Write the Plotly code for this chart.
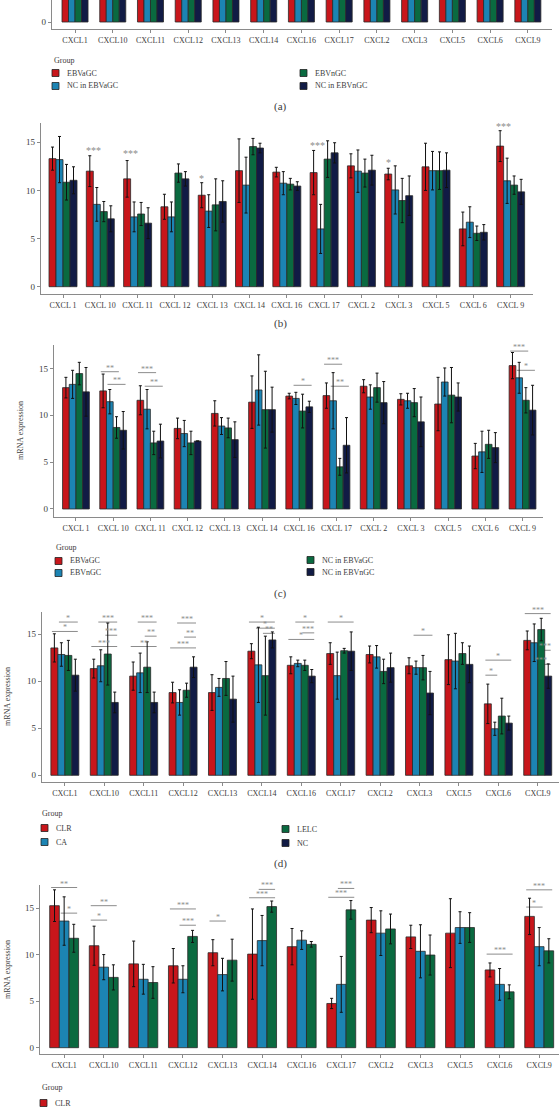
import plotly.graph_objects as go

W, H = 559, 1110

# ---------------- data ----------------
# (a) only the bottom of the bars is visible in the reference; heights are estimates
a_cats = ["CXCL1", "CXCL10", "CXCL11", "CXCL12", "CXCL13", "CXCL14", "CXCL16",
          "CXCL17", "CXCL2", "CXCL3", "CXCL5", "CXCL6", "CXCL9"]
a_groups = ["EBVaGC", "NC in EBVaGC", "EBVnGC", "NC in EBVnGC"]
a_ebvagc = [13.0, 12.5, 11.5, 8.5, 10.0, 11.5, 12.0, 12.0, 13.0, 11.5, 11.5, 6.0, 15.0]
a_nc_ebvagc = [13.0, 11.0, 10.5, 8.0, 9.0, 12.5, 11.5, 11.5, 12.0, 11.5, 13.5, 6.0, 14.0]
a_ebvngc = [14.0, 8.5, 7.0, 7.0, 8.5, 10.5, 10.5, 4.5, 13.0, 11.5, 12.0, 7.0, 11.5]
a_nc_ebvngc = [12.5, 8.5, 7.5, 7.5, 7.5, 10.5, 11.0, 7.0, 11.5, 9.5, 12.0, 6.5, 10.5]

# (b)
b_cats = ["CXCL 1", "CXCL 10", "CXCL 11", "CXCL 12", "CXCL 13", "CXCL 14", "CXCL 16",
          "CXCL 17", "CXCL 2", "CXCL 3", "CXCL 5", "CXCL 6", "CXCL 9"]
b_groups = ["EBVaGC", "NC in EBVaGC", "EBVnGC", "NC in EBVnGC"]
b_ebvagc = [13.3, 12.0, 11.2, 8.3, 9.5, 12.05, 11.9, 11.85, 12.55, 11.7, 12.45, 6.0, 14.6]
b_ebvagc_sd = [1.2, 1.6, 1.9, 1.3, 1.3, 3.3, 0.5, 2.3, 1.25, 0.6, 2.45, 1.75, 1.6]
b_nc_ebvagc = [13.2, 8.55, 7.25, 7.25, 7.85, 10.55, 10.75, 6.0, 12.0, 10.05, 12.05, 6.7, 11.0]
b_nc_ebvagc_sd = [2.4, 1.75, 1.55, 1.55, 1.7, 2.9, 1.2, 2.55, 2.2, 2.5, 2.0, 1.6, 2.35]
b_ebvngc = [10.85, 7.8, 7.55, 11.8, 8.5, 14.55, 10.65, 13.25, 11.8, 8.95, 12.05, 5.55, 10.55]
b_ebvngc_sd = [1.85, 1.05, 1.2, 0.95, 2.7, 0.85, 0.6, 1.9, 1.45, 2.3, 1.95, 0.75, 0.95]
b_nc_ebvngc = [11.05, 7.05, 6.6, 11.2, 8.85, 14.4, 10.45, 13.9, 12.1, 9.45, 12.1, 5.65, 9.85]
b_nc_ebvngc_sd = [1.4, 1.35, 1.6, 0.75, 2.15, 0.5, 0.45, 1.05, 1.55, 2.05, 1.8, 0.8, 1.3]
# significance marks: (category, bar position, y, label)
b_marks = [("CXCL 10", 0.5, 14.1, "***"), ("CXCL 11", 0.5, 13.85, "***"),
           ("CXCL 13", 0, 11.2, "*"), ("CXCL 17", 0.5, 14.7, "***"),
           ("CXCL 3", 0, 12.9, "*"), ("CXCL 9", 0.5, 16.6, "***")]

# (c)
c_cats = b_cats
c_groups = ["EBVaGC", "EBVnGC", "NC in EBVaGC", "NC in EBVnGC"]
c_ebvagc = [12.95, 12.6, 11.6, 8.6, 10.2, 11.4, 12.05, 12.1, 13.1, 11.7, 11.2, 5.65, 15.3]
c_ebvagc_sd = [1.1, 1.8, 1.55, 1.1, 1.35, 2.8, 0.3, 1.35, 0.7, 0.6, 2.85, 1.35, 1.4]
c_ebvngc = [13.3, 11.45, 10.65, 8.05, 8.85, 12.7, 11.8, 11.55, 11.95, 11.55, 13.55, 6.1, 14.0]
c_ebvngc_sd = [1.5, 1.3, 2.1, 1.4, 0.9, 3.75, 0.65, 3.0, 1.3, 0.8, 1.5, 2.2, 1.65]
c_nc_ebvagc = [14.45, 8.7, 7.05, 7.05, 8.65, 10.6, 10.45, 4.5, 12.95, 11.35, 12.15, 6.9, 11.6]
c_nc_ebvagc_sd = [1.2, 1.15, 1.25, 1.25, 1.05, 4.1, 1.8, 0.9, 1.55, 1.5, 2.95, 1.5, 1.35]
c_nc_ebvngc = [12.5, 8.4, 7.25, 7.25, 7.4, 10.6, 10.9, 6.8, 11.35, 9.3, 11.95, 6.55, 10.55]
c_nc_ebvngc_sd = [2.6, 2.0, 1.8, 0.0, 1.9, 2.4, 0.6, 2.95, 2.25, 2.65, 1.5, 1.6, 2.65]
# brackets: (category, from bar, to bar, y, label)
c_brackets = [("CXCL 10", 0, 2, 14.65, "**"), ("CXCL 10", 1, 3, 13.3, "**"),
              ("CXCL 11", 0, 2, 14.55, "***"), ("CXCL 11", 1, 3, 13.1, "**"),
              ("CXCL 16", 1, 3, 13.2, "*"),
              ("CXCL 17", 0, 2, 15.45, "***"), ("CXCL 17", 1, 3, 13.1, "**"),
              ("CXCL 9", 0, 2, 16.85, "***"), ("CXCL 9", 1, 3, 14.8, "*")]

# (d)
d_cats = a_cats
d_groups = ["CLR", "CA", "LELC", "NC"]
d_clr = [13.55, 11.35, 10.55, 8.8, 8.8, 13.2, 11.7, 12.95, 12.85, 11.65, 12.3, 7.6, 14.35]
d_clr_sd = [1.5, 1.0, 1.5, 1.1, 1.9, 0.8, 0.9, 1.15, 0.9, 0.85, 2.65, 2.1, 1.0]
d_ca = [12.85, 11.65, 10.9, 7.75, 9.35, 11.75, 11.9, 10.6, 12.6, 11.45, 12.15, 4.95, 14.1]
d_ca_sd = [1.25, 1.7, 2.1, 1.35, 0.95, 4.0, 0.35, 2.5, 1.2, 0.7, 2.95, 0.7, 2.0]
d_lelc = [12.75, 12.9, 11.5, 9.05, 10.3, 10.6, 11.7, 13.25, 11.05, 11.45, 12.95, 6.3, 15.5]
d_lelc_sd = [1.6, 3.3, 2.7, 0.75, 1.8, 4.2, 0.55, 0.25, 1.3, 1.3, 1.15, 1.9, 1.2]
d_nc = [10.65, 7.75, 7.75, 11.5, 8.1, 14.4, 10.55, 13.2, 11.45, 8.75, 11.8, 5.55, 10.55]
d_nc_sd = [1.7, 1.1, 1.1, 1.1, 2.45, 0.85, 0.7, 2.05, 1.55, 2.3, 1.95, 0.75, 1.3]
d_brackets = [("CXCL1", 1, 3, 16.3, "*"), ("CXCL1", 0, 3, 15.3, "*"),
              ("CXCL10", 1, 3, 16.3, "***"), ("CXCL10", 2, 3, 14.9, "***"), ("CXCL10", 0, 3, 13.7, "***"),
              ("CXCL11", 1, 3, 16.3, "***"), ("CXCL11", 2, 3, 14.8, "**"), ("CXCL11", 0, 3, 13.7, "**"),
              ("CXCL12", 1, 3, 16.2, "***"), ("CXCL12", 2, 3, 14.7, "**"), ("CXCL12", 0, 3, 13.55, "***"),
              ("CXCL14", 0, 3, 16.3, "*"), ("CXCL14", 1, 3, 15.65, "*"), ("CXCL14", 2, 3, 15.1, "**"),
              ("CXCL16", 1, 3, 16.3, "*"), ("CXCL16", 2, 3, 15.15, "***"), ("CXCL16", 0, 3, 14.45, "*"),
              ("CXCL17", 0, 3, 16.3, "*"),
              ("CXCL3", 1, 3, 14.9, "*"),
              ("CXCL6", 0, 3, 12.25, "*"), ("CXCL6", 0, 1, 10.65, "*"),
              ("CXCL9", 0, 3, 17.2, "***"), ("CXCL9", 2, 3, 13.3, "***"), ("CXCL9", 1, 3, 11.8, "***")]

# (e)
e_cats = a_cats
e_groups = ["CLR", "CA", "LELC"]
e_clr = [15.25, 10.95, 9.0, 8.8, 10.2, 10.05, 10.85, 4.75, 13.7, 11.9, 12.3, 8.35, 14.1]
e_clr_sd = [1.7, 2.1, 2.45, 1.85, 1.4, 4.85, 1.95, 0.55, 1.35, 1.25, 3.7, 0.75, 1.95]
e_ca = [13.6, 8.65, 7.35, 7.35, 7.85, 11.5, 11.55, 6.8, 12.3, 10.35, 12.9, 6.8, 10.85]
e_ca_sd = [2.6, 1.35, 1.6, 1.45, 1.75, 2.7, 1.0, 3.0, 2.4, 2.85, 1.7, 1.7, 2.05]
e_lelc = [11.75, 7.55, 7.0, 11.95, 9.4, 15.15, 11.1, 14.8, 12.75, 9.95, 12.9, 6.0, 10.4]
e_lelc_sd = [1.5, 1.35, 1.7, 0.65, 2.25, 0.6, 0.3, 1.0, 1.6, 2.15, 1.6, 0.75, 1.3]
e_brackets = [("CXCL1", 0, 2, 17.2, "**"), ("CXCL1", 1, 2, 14.45, "*"),
              ("CXCL10", 0, 2, 15.25, "**"), ("CXCL10", 0, 1, 13.7, "*"),
              ("CXCL12", 0, 2, 14.9, "***"), ("CXCL12", 1, 2, 13.15, "***"),
              ("CXCL13", 0, 1, 13.6, "*"),
              ("CXCL14", 1, 2, 17.0, "***"), ("CXCL14", 0, 2, 16.1, "***"),
              ("CXCL17", 1, 2, 17.1, "***"), ("CXCL17", 0, 2, 16.15, "***"),
              ("CXCL6", 0, 2, 10.05, "***"),
              ("CXCL9", 0, 2, 16.95, "***"), ("CXCL9", 0, 1, 15.1, "*")]

# ---------------- style ----------------
RED, BLUE, GREEN, NAVY = "#C8161B", "#1C84B3", "#0A6A40", "#111B45"
FONT = "Liberation Serif"
TXT = "#3c3c3c"
AXC = "#8a8a8a"
SIG = "#8c8c8c"


def px_x(px):
    return px / W


def px_y(py):
    return 1 - py / H


panels = [
    dict(cats=a_cats, groups=a_groups, colors=[RED, BLUE, GREEN, NAVY],
         vals=[a_ebvagc, a_nc_ebvagc, a_ebvngc, a_nc_ebvngc], errs=None,
         xpx=(52, 552), ypx=(0, 29), xr=(-0.61, 12.64), yr=(-0.745, 2.34), gw=0.69,
         ticks=[0], marks=[], brackets=[]),
    dict(cats=b_cats, groups=b_groups, colors=[RED, BLUE, GREEN, NAVY],
         vals=[b_ebvagc, b_nc_ebvagc, b_ebvngc, b_nc_ebvngc],
         errs=[b_ebvagc_sd, b_nc_ebvagc_sd, b_ebvngc_sd, b_nc_ebvngc_sd],
         xpx=(41, 533), ypx=(123, 294), xr=(-0.59, 12.6), yr=(-0.758, 17.0), gw=0.75,
         ticks=[0, 5, 10, 15], marks=b_marks, brackets=[]),
    dict(cats=c_cats, groups=c_groups, colors=[RED, BLUE, GREEN, NAVY],
         vals=[c_ebvagc, c_ebvngc, c_nc_ebvagc, c_nc_ebvngc],
         errs=[c_ebvagc_sd, c_ebvngc_sd, c_nc_ebvagc_sd, c_nc_ebvngc_sd],
         xpx=(54, 543), ypx=(345, 517), xr=(-0.59, 12.55), yr=(-0.855, 17.5), gw=0.72,
         ticks=[0, 5, 10, 15], marks=[], brackets=c_brackets),
    dict(cats=d_cats, groups=d_groups, colors=[RED, BLUE, GREEN, NAVY],
         vals=[d_clr, d_ca, d_lelc, d_nc], errs=[d_clr_sd, d_ca_sd, d_lelc_sd, d_nc_sd],
         xpx=(42, 559), ypx=(612, 782), xr=(-0.58, 12.54), yr=(-0.713, 17.37), gw=0.71,
         ticks=[0, 5, 10, 15], marks=[], brackets=d_brackets),
    dict(cats=e_cats, groups=e_groups, colors=[RED, BLUE, GREEN],
         vals=[e_clr, e_ca, e_lelc], errs=[e_clr_sd, e_ca_sd, e_lelc_sd],
         xpx=(40, 559), ypx=(885, 1054), xr=(-0.61, 12.5), yr=(-0.676, 17.47), gw=0.73,
         ticks=[0, 5, 10, 15], marks=[], brackets=e_brackets),
]

# legend rows that fall inside the page (the reference is cropped below "CLR" in (e))
legends = [
    dict(title=(52, 61), items=[(52, 73, "EBVaGC", RED), (52, 86, "NC in EBVaGC", BLUE),
                                (300, 73, "EBVnGC", GREEN), (300, 86, "NC in EBVnGC", NAVY)]),
    dict(title=(54, 547), items=[(55, 561, "EBVaGC", RED), (55, 573, "EBVnGC", BLUE),
                                 (307, 560, "NC in EBVaGC", GREEN), (307, 572, "NC in EBVnGC", NAVY)]),
    dict(title=(40, 814), items=[(41, 828, "CLR", RED), (41, 842, "CA", BLUE),
                                 (282, 829, "LELC", GREEN), (282, 843, "NC", NAVY)]),
    dict(title=(40, 1087), items=[(40, 1103, "CLR", RED)]),
]
panel_labels = [("(a)", 280, 106), ("(b)", 280, 323), ("(c)", 280, 593), ("(d)", 280, 863)]
ytitles = [(20, 431), (7, 697), (7, 970)]

fig = go.Figure()
shapes = []
annotations = []
layout_axes = {}

for p_i, p in enumerate(panels):
    n = len(p["groups"])
    suffix = "" if p_i == 0 else str(p_i + 1)
    xa, ya = "x" + suffix, "y" + suffix
    w = p["gw"] / n
    offsets = [-p["gw"] / 2 + k * w for k in range(n)]
    for k in range(n):
        err = None
        if p["errs"] is not None:
            err = dict(type="data", array=p["errs"][k], visible=True, color="#111111",
                       thickness=1, width=1.5)
        fig.add_trace(go.Bar(
            x=p["cats"], y=p["vals"][k], name=p["groups"][k], showlegend=False,
            width=w, offset=offsets[k], error_y=err,
            marker=dict(color=p["colors"][k], line=dict(color="#2a2a2a", width=0.8)),
            xaxis=xa, yaxis=ya))

    def bar_center(cat, k):
        return p["cats"].index(cat) + offsets[0] + (k + 0.5) * w

    for cat, k, yv, txt in p["marks"]:
        annotations.append(dict(x=bar_center(cat, k), y=yv, xref=xa, yref=ya, text=txt,
                                showarrow=False, yanchor="middle",
                                font=dict(family=FONT, size=10, color=SIG)))
    for cat, i, j, yv, txt in p["brackets"]:
        x0 = bar_center(cat, i) - 0.35 * w
        x1 = bar_center(cat, j) + 0.35 * w
        shapes.append(dict(type="line", xref=xa, yref=ya, x0=x0, x1=x1, y0=yv, y1=yv,
                           line=dict(color=SIG, width=1), layer="below"))
        annotations.append(dict(x=(x0 + x1) / 2, y=yv, xref=xa, yref=ya, text=txt,
                                showarrow=False, yanchor="bottom", yshift=-3,
                                font=dict(family=FONT, size=8, color=SIG)))

    key = "" if p_i == 0 else str(p_i + 1)
    layout_axes["xaxis" + key] = dict(
        domain=[px_x(p["xpx"][0]), px_x(p["xpx"][1])], anchor=ya, range=list(p["xr"]),
        showline=True, linecolor=AXC, linewidth=1.3, ticks="outside", ticklen=3,
        tickcolor=AXC, showgrid=False, zeroline=False, type="category",
        tickfont=dict(family=FONT, size=8, color=TXT))
    layout_axes["yaxis" + key] = dict(
        domain=[px_y(p["ypx"][1]), px_y(p["ypx"][0])], anchor=xa, range=list(p["yr"]),
        showline=True, linecolor=AXC, linewidth=1.3, ticks="outside", ticklen=3,
        tickcolor=AXC, showgrid=False, zeroline=False, tickvals=p["ticks"],
        tickfont=dict(family=FONT, size=9, color=TXT))

for lg in legends:
    tx, ty = lg["title"]
    annotations.append(dict(x=px_x(tx), y=px_y(ty), xref="paper", yref="paper", text="Group",
                            showarrow=False, xanchor="left", yanchor="middle",
                            font=dict(family=FONT, size=8, color=TXT)))
    for sx, sy, label, col in lg["items"]:
        shapes.append(dict(type="rect", xref="paper", yref="paper",
                           x0=px_x(sx), x1=px_x(sx + 7), y0=px_y(sy + 3.5), y1=px_y(sy - 3.5),
                           fillcolor=col, line=dict(color="#222222", width=0.8)))
        annotations.append(dict(x=px_x(sx + 13), y=px_y(sy), xref="paper", yref="paper",
                                text=label, showarrow=False, xanchor="left", yanchor="middle",
                                font=dict(family=FONT, size=8, color=TXT)))

for txt, lx, ly in panel_labels:
    annotations.append(dict(x=px_x(lx), y=px_y(ly), xref="paper", yref="paper", text=txt,
                            showarrow=False, xanchor="center", yanchor="middle",
                            font=dict(family=FONT, size=11, color=TXT)))

for tx, ty in ytitles:
    annotations.append(dict(x=px_x(tx), y=px_y(ty), xref="paper", yref="paper",
                            text="mRNA expression", textangle=-90, showarrow=False,
                            xanchor="center", yanchor="middle",
                            font=dict(family=FONT, size=8, color=TXT)))

fig.update_layout(
    width=W, height=H, margin=dict(l=0, r=0, t=0, b=0, autoexpand=False),
    paper_bgcolor="white", plot_bgcolor="rgba(0,0,0,0)", barmode="overlay",
    hovermode=False, shapes=shapes, annotations=annotations, **layout_axes)

fig.write_html("out.html", config={"displayModeBar": False, "staticPlot": True},
               post_script="document.body.style.margin='0px';"
                           "document.body.style.overflow='hidden';")
